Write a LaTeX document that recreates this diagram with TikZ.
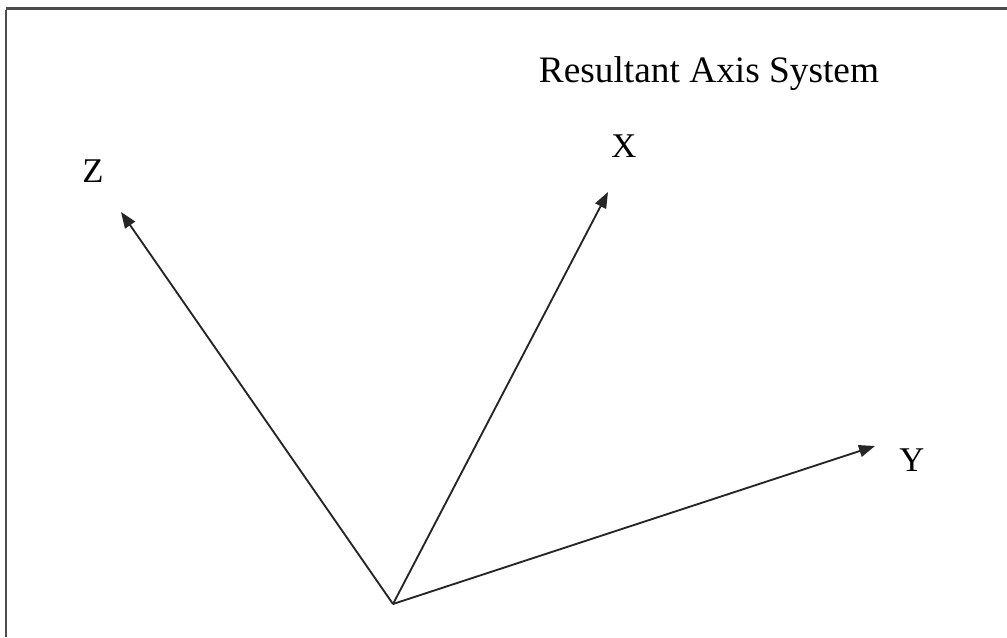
\documentclass[tikz,border=0pt]{standalone}
\usepackage{fontspec}
\setmainfont{Liberation Serif}
\usetikzlibrary{arrows.meta}
\begin{document}
\begin{tikzpicture}[x=0.75pt,y=-0.75pt,
  axis/.style={line width=1.4pt, draw=black!85, -{Triangle[length=12pt,width=9pt]}},
  lbl/.style={font=\fontsize{26}{30}\selectfont, inner sep=0pt},
  ttl/.style={font=\fontsize{28}{32}\selectfont, inner sep=0pt},
  frame/.style={line width=2pt, draw=black!70}]
\useasboundingbox (0,0) rectangle (1007,637);
\draw[frame] (6,8.5) -- (1007,8.5);
\draw[frame] (6,10) -- (6,637);
\coordinate (O) at (393,604);
\coordinate (Zt) at (121,212);
\coordinate (Xt) at (608,192);
\coordinate (Yt) at (875,446);
\draw[axis] (O) -- (Zt);
\draw[axis] (O) -- (Xt);
\draw[axis] (O) -- (Yt);
\node[lbl] (Z) at (93,171) {Z};
\node[lbl] (X) at (624,146) {X};
\node[lbl] (Y) at (912,460) {Y};
\node[ttl] (title) at (709,74) {Resultant Axis System};
\end{tikzpicture}
\end{document}
